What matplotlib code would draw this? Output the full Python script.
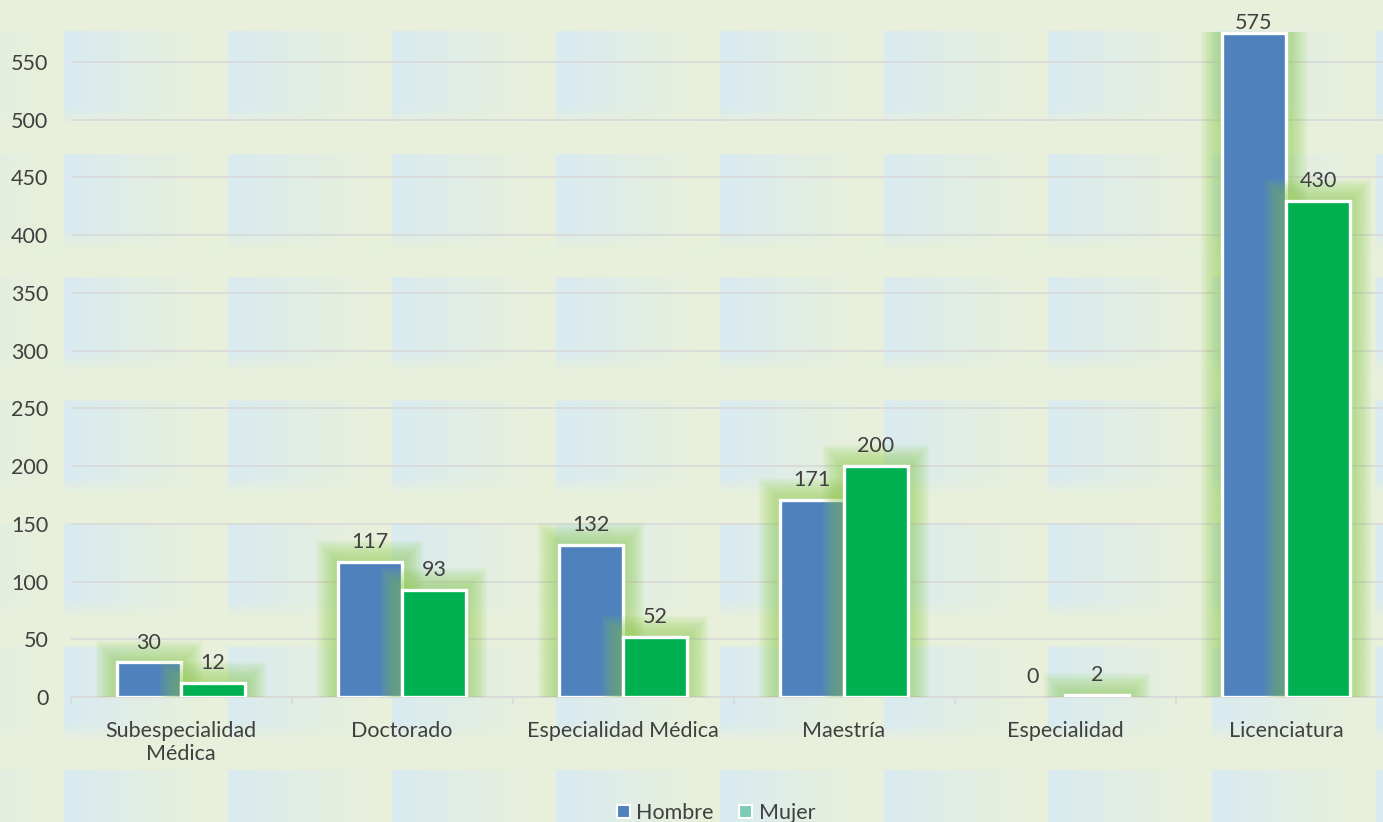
import numpy as np
import matplotlib
matplotlib.use("Agg")
import matplotlib.pyplot as plt
from matplotlib.patches import Rectangle, Patch

categories = ["Subespecialidad\nMédica", "Doctorado", "Especialidad Médica",
              "Maestría", "Especialidad", "Licenciatura"]
hombre = [30, 117, 132, 171, 0, 575]
mujer = [12, 93, 52, 200, 2, 430]
yticks = [0, 50, 100, 150, 200, 250, 300, 350, 400, 450, 500, 550]
series_names = ["Hombre", "Mujer"]

W, H = 1383, 822
DPI = 100
plt.rcParams['font.family'] = ['Lato', 'DejaVu Sans']
TXT = '#404040'
FS = 15.5

fig = plt.figure(figsize=(W / DPI, H / DPI), dpi=DPI)

# ---- tiled background ----
blue = np.array([217, 235, 241]) / 255.0
green = np.array([232, 240, 219]) / 255.0
xx = np.arange(W)
yy = np.arange(H)
u = ((xx - 64) % 164) / 164.0
v = ((yy - 32) % 123) / 123.0
wx = np.clip(1 - u / 0.85, 0, 1)
wy = np.clip((0.76 - v) / 0.14, 0, 1)
w = wy[:, None] * wx[None, :]
img = green[None, None, :] + (blue - green)[None, None, :] * w[:, :, None]
bg = fig.add_axes([0, 0, 1, 1], zorder=-10)
bg.imshow(img, aspect='auto', extent=(0, 1, 0, 1), interpolation='bilinear')
bg.axis('off')

# ---- main axes ----
left_px, right_px = 70.5, 1396.5
top_px, bot_px = 32, 697
ax = fig.add_axes([left_px / W, 1 - bot_px / H, (right_px - left_px) / W, (bot_px - top_px) / H])
ax.set_facecolor('none')
n = len(categories)
ax.set_xlim(-0.5, n - 0.5)
ymax = 576
ax.set_ylim(0, ymax)

px_x = (right_px - left_px) / n          # px per x unit
px_y = (bot_px - top_px) / ymax          # px per y unit

x = np.arange(n)
bw = 0.29
glow_col = '#92D050'
nl = 22
glow_px = 22

def draw_series(xs, vals, color, z):
    # glow (stacked translucent layers for a soft halo)
    for k in range(nl):
        p = glow_px * ((k + 1) / nl) ** 0.8
        for xi, val in zip(xs, vals):
            if val <= 0:
                continue
            r = Rectangle((xi - bw / 2 - p / px_x, 0), bw + 2 * p / px_x, val + p / px_y,
                          facecolor=glow_col, edgecolor='none', alpha=0.032, zorder=z)
            ax.add_patch(r)
    lws = [2.4 if val > 0 else 0 for val in vals]
    ax.bar(xs, vals, width=bw, color=color, edgecolor='white', linewidth=lws, zorder=z + 1)

xh = x - bw / 2
xm = x + bw / 2
draw_series(xh, hombre, '#4F81BD', 3)
draw_series(xm, mujer, '#00B050', 5)

for xs, vals in ((xh, hombre), (xm, mujer)):
    for xi, val in zip(xs, vals):
        off = 0 if val > 0.95 * ymax else 7
        ax.annotate(str(val), (xi, val), xytext=(0, off), textcoords='offset points',
                    ha='center', va='bottom', fontsize=FS, color=TXT, zorder=10,
                    annotation_clip=False)

# grid & axes
ax.set_yticks(yticks)
ax.set_yticklabels([str(t) for t in yticks])
ax.yaxis.grid(True, color='#D9D9D9', linewidth=1.2, zorder=0)
ax.set_axisbelow(True)
ax.tick_params(axis='y', length=0, pad=16, labelsize=FS, labelcolor=TXT)
ax.set_xticks(x)
ax.set_xticklabels(categories)
ax.set_xticks(np.arange(n + 1) - 0.5, minor=True)
ax.tick_params(axis='x', which='major', length=0, pad=17, labelsize=FS, labelcolor=TXT)
ax.tick_params(axis='x', which='minor', length=5, width=1.2, color='#D9D9D9')
for s in ['top', 'right', 'left']:
    ax.spines[s].set_visible(False)
ax.spines['bottom'].set_color('#D9D9D9')
ax.spines['bottom'].set_linewidth(1.2)

handles = [Patch(facecolor='#4F81BD', edgecolor='white', linewidth=1.5, label=series_names[0]),
           Patch(facecolor='#7FCBB8', edgecolor='white', linewidth=1.5, label=series_names[1])]
fig.legend(handles=handles, loc='center', bbox_to_anchor=(716 / W, 1 - 813 / H), ncol=2,
           frameon=False, fontsize=FS, labelcolor=TXT, handlelength=0.6, handleheight=0.6,
           handletextpad=0.3, columnspacing=1.2, borderpad=0)

fig.savefig('out.png', dpi=DPI)
